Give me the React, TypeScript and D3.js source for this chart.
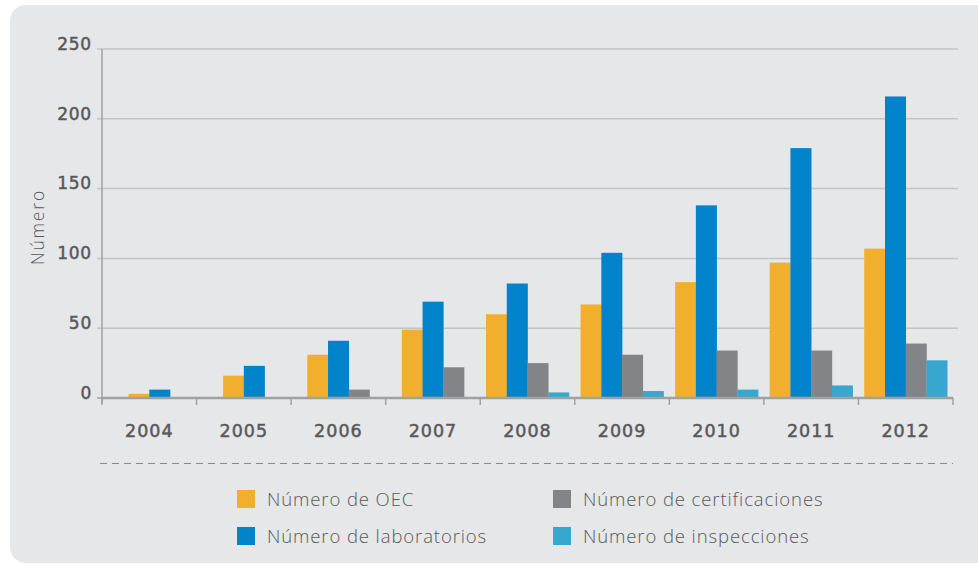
import React from 'react'
import * as d3 from 'd3'

const years = ['2004', '2005', '2006', '2007', '2008', '2009', '2010', '2011', '2012']
const oec = [3, 16, 31, 49, 60, 67, 83, 97, 107]
const laboratorios = [6, 23, 41, 69, 82, 104, 138, 179, 216]
const certificaciones = [null, null, 6, 22, 25, 31, 34, 34, 39]
const inspecciones = [null, null, null, null, 4, 5, 6, 9, 27]
const yTicks = [0, 50, 100, 150, 200, 250]

const seriesNames = ['Número de OEC', 'Número de laboratorios', 'Número de certificaciones', 'Número de inspecciones']
const seriesValues = [oec, laboratorios, certificaciones, inspecciones]
const colors = ['#f2af2e', '#0083cb', '#838487', '#37a7d0']

const W = 978, H = 564
const left = 102, right = 953, top = 49, bottom = 398
const font = "'Open Sans', sans-serif"
const numFont = "'DejaVu Sans', sans-serif"

export default function App() {
  const x = d3.scaleBand().domain(years).range([left, right]).padding(0)
  const y = d3.scaleLinear().domain([0, 250]).range([bottom, top])
  // slot width for 4 bars inside a band
  const slot = d3.scaleBand().domain(d3.range(4).map(String))
    .range([0, x.bandwidth()]).paddingOuter(0.28).paddingInner(0)
  const bw = slot.bandwidth()

  const bars: any[] = []
  years.forEach((yr, i) => {
    const present = seriesValues.map((s, k) => k).filter(k => seriesValues[k][i] != null)
    const c = x(yr)! + x.bandwidth() / 2
    const inner = d3.scaleBand().domain(present.map(String))
      .range([c - present.length * bw / 2, c + present.length * bw / 2])
    present.forEach(k => {
      const v = seriesValues[k][i] as number
      bars.push(
        <rect key={yr + k} x={inner(String(k))} y={y(v)} width={inner.bandwidth() + 0.3}
          height={y(0) - y(v)} fill={colors[k]} />
      )
    })
  })

  const boundaries = years.map(yr => x(yr)!).concat([right])

  return (
    <svg width={W} height={H} style={{ position: 'absolute', left: 0, top: 0, background: '#fff' }}>
      <rect x={10} y={5} width={W + 20} height={H - 6} rx={16} fill="#e6e7e8" />

      {yTicks.map(t => (
        <g key={t}>
          {t > 0 && <line x1={left - 5} x2={958} y1={y(t)} y2={y(t)} stroke="#c3c4c6" strokeWidth={1.5} />}
          {t === 0 && <line x1={left - 5} x2={left} y1={y(t)} y2={y(t)} stroke="#a0a1a3" strokeWidth={1.5} />}
          <text x={92} y={y(t)} dy="0.05em" textAnchor="end" fontFamily={numFont}
            fontSize={17} letterSpacing={0.8} fill="#58595b" stroke="#58595b" strokeWidth={0.5}>{t}</text>
        </g>
      ))}

      <text transform={`translate(44,227) rotate(-90)`} textAnchor="middle" fontFamily={font}
        fontWeight={300} fontSize={17.5} letterSpacing={1.8} fill="#58595b">Número</text>

      {bars}

      <line x1={left} x2={left} y1={top} y2={bottom + 5} stroke="#a0a1a3" strokeWidth={1.5} />
      <line x1={left} x2={right} y1={bottom} y2={bottom} stroke="#a0a1a3" strokeWidth={2.5} />
      {boundaries.map((b, i) => (
        <line key={i} x1={b} x2={b} y1={bottom} y2={bottom + 7} stroke="#a0a1a3" strokeWidth={1.5} />
      ))}
      {years.map(yr => (
        <text key={yr} x={x(yr)! + x.bandwidth() / 2} y={437} textAnchor="middle" fontFamily={numFont}
          fontSize={17.5} letterSpacing={1} fill="#58595b" stroke="#58595b" strokeWidth={0.5}>{yr}</text>
      ))}

      <line x1={100} x2={right} y1={463.5} y2={463.5} stroke="#8a8b8d" strokeWidth={1}
        strokeDasharray="7,5" />

      {seriesNames.map((name, k) => {
        const col = k < 2 ? 0 : 1
        const row = k % 2
        const lx = col === 0 ? 237 : 553
        const ly = 490 + row * 37
        return (
          <g key={name}>
            <rect x={lx} y={ly} width={18} height={18} fill={colors[k]} />
            <text x={lx + 30} y={ly + 16} fontFamily={font} fontWeight={300} fontSize={18.5}
              letterSpacing={0.9} fill="#58595b">{name}</text>
          </g>
        )
      })}
    </svg>
  )
}
